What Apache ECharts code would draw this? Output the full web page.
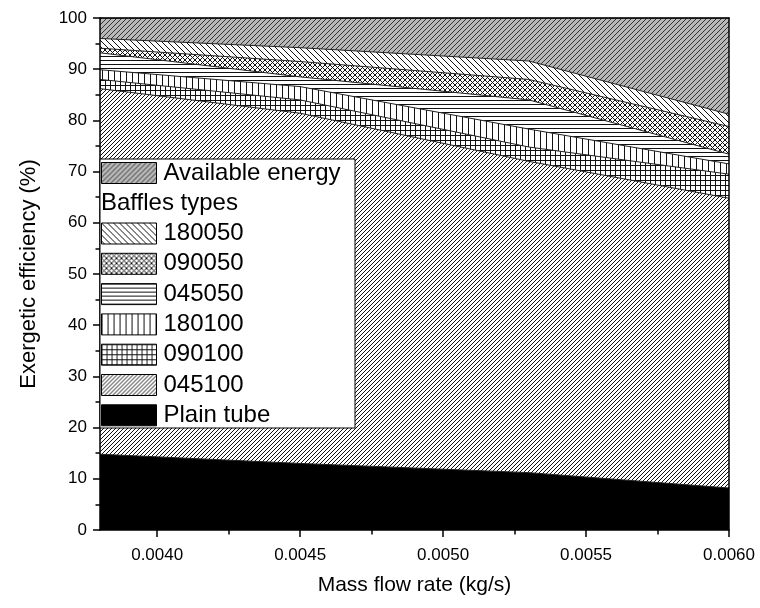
<!DOCTYPE html>
<html>
<head>
<meta charset="utf-8">
<script src="https://cdn.jsdelivr.net/npm/echarts@6/dist/echarts.min.js"></script>
<style>
    html, body { margin: 0; background: #fff; }
    #chart { width: 760px; height: 608px; }
</style>
</head>
<body>
<div id="chart"></div>
<script>
    // mass flow rate (kg/s)
    var massFlow = [0.0038, 0.0045, 0.0053, 0.0060];
    // exergetic efficiency (%) per baffle type
    var availableEnergy = [100, 100, 100, 100];
    var b180050 = [96.0, 94.2, 91.6, 81.2];
    var b090050 = [94.1, 91.5, 88.0, 78.8];
    var b045050 = [93.2, 88.5, 84.0, 73.4];
    var b180100 = [89.9, 86.6, 78.3, 71.5];
    var b090100 = [88.0, 84.0, 74.8, 69.5];
    var b045100 = [86.2, 81.4, 72.0, 64.8];
    var plainTube = [14.8, 13.0, 11.2, 8.2];

    var xTicks = [0.0040, 0.0045, 0.0050, 0.0055, 0.0060];
    var xMinorTicks = [0.00425, 0.00475, 0.00525, 0.00575];

    var FONT = 'Liberation Sans, Arial, sans-serif';

    function pattern(size, bg, draw, ink) {
        var c = document.createElement('canvas');
        c.width = size;
        c.height = size;
        var ctx = c.getContext('2d');
        ctx.fillStyle = bg;
        ctx.fillRect(0, 0, size, size);
        ctx.strokeStyle = ink || '#111';
        ctx.lineWidth = 1;
        ctx.beginPath();
        draw(ctx, size);
        ctx.stroke();
        return { image: c, repeat: 'repeat' };
    }
    function diagUp(ctx, s) {
        for (var k = -1; k <= 1; k++) { ctx.moveTo(k * s, s); ctx.lineTo(k * s + s, 0); }
    }
    function diagDown(ctx, s) {
        for (var k = -1; k <= 1; k++) { ctx.moveTo(k * s, 0); ctx.lineTo(k * s + s, s); }
    }
    function horiz(ctx, s) { ctx.moveTo(0, 0.5); ctx.lineTo(s, 0.5); }
    function vert(ctx, s) { ctx.moveTo(0.5, 0); ctx.lineTo(0.5, s); }

    var fills = {
        'Available energy': pattern(5, '#b8b8b8', diagUp, '#333'),
        '180050': pattern(6, '#fff', diagDown),
        '090050': pattern(5, '#fff', function (ctx, s) { diagUp(ctx, s); diagDown(ctx, s); }),
        '045050': pattern(4, '#fff', horiz),
        '180100': pattern(6, '#fff', vert),
        '090100': pattern(5, '#fff', function (ctx, s) { horiz(ctx, s); vert(ctx, s); }),
        '045100': pattern(4, '#fff', diagUp),
        'Plain tube': '#000'
    };

    function pairs(ys) {
        return massFlow.map(function (x, i) { return [x, ys[i]]; });
    }

    function area(name, ys) {
        return {
            name: name,
            type: 'line',
            data: pairs(ys),
            symbol: 'none',
            lineStyle: { color: '#222', width: 1 },
            itemStyle: { color: '#222' },
            areaStyle: { color: fills[name], opacity: 1 }
        };
    }

    function legendItem(name) {
        return { name: name, itemStyle: { color: fills[name], borderColor: '#000', borderWidth: 1 } };
    }

    var legendText = { fontSize: 24, color: '#000', fontFamily: FONT, padding: [0, 0, 0, 2] };

    var chart = echarts.init(document.getElementById('chart'));
    var axisLine = { lineStyle: { color: '#000', width: 1.5 } };

    chart.setOption({
        animation: false,
        textStyle: { fontFamily: FONT },
        grid: { left: 100, right: 31, top: 18, bottom: 78 },
        xAxis: [
            {
                type: 'value', min: 0.0038, max: 0.0060, position: 'bottom', z: 10,
                axisLine: axisLine,
                axisTick: { customValues: xTicks, length: 7, lineStyle: { color: '#000', width: 1.5 } },
                axisLabel: {
                    customValues: xTicks, fontSize: 17, color: '#000', margin: 17,
                    formatter: function (v) { return v.toFixed(4); }
                },
                splitLine: { show: false },
                name: 'Mass flow rate (kg/s)', nameLocation: 'middle', nameGap: 45,
                nameTextStyle: { fontSize: 21, color: '#000' }
            },
            {
                type: 'value', min: 0.0038, max: 0.0060, position: 'bottom', z: 10,
                axisLine: { show: false },
                axisTick: { customValues: xMinorTicks, length: 4.5, lineStyle: { color: '#000', width: 1.5 } },
                axisLabel: { show: false },
                splitLine: { show: false }
            },
            {
                type: 'value', min: 0.0038, max: 0.0060, position: 'top', z: 10,
                axisLine: axisLine, axisTick: { show: false }, axisLabel: { show: false },
                splitLine: { show: false }
            }
        ],
        yAxis: [
            {
                type: 'value', min: 0, max: 100, interval: 10, position: 'left', z: 10,
                axisLine: { show: true, lineStyle: { color: '#000', width: 1.5 } },
                axisTick: { show: true, length: 7, lineStyle: { color: '#000', width: 1.5 } },
                minorTick: { show: true, splitNumber: 2, length: 4.5, lineStyle: { color: '#000', width: 1.5 } },
                axisLabel: { fontSize: 17, color: '#000', margin: 13 },
                splitLine: { show: false },
                name: 'Exergetic efficiency (%)', nameLocation: 'middle', nameGap: 60,
                nameTextStyle: { fontSize: 22, color: '#000' }
            },
            {
                type: 'value', min: 0, max: 100, position: 'right', z: 10,
                axisLine: { show: true, lineStyle: { color: '#000', width: 1.5 } },
                axisTick: { show: false }, axisLabel: { show: false }, splitLine: { show: false }
            }
        ],
        legend: [
            {
                data: [legendItem('Available energy')], zlevel: 1, z: 5,
                left: 101, top: 161, orient: 'vertical', icon: 'rect',
                itemWidth: 55, itemHeight: 21, padding: 0, selectedMode: false,
                textStyle: legendText
            },
            {
                data: ['180050', '090050', '045050', '180100', '090100', '045100', 'Plain tube'].map(legendItem),
                zlevel: 1, z: 5,
                left: 101, top: 221.5, orient: 'vertical', icon: 'rect',
                itemWidth: 55, itemHeight: 21, itemGap: 6.3, padding: 0, selectedMode: false,
                textStyle: legendText
            }
        ],
        graphic: [
            {
                type: 'rect', zlevel: 1, z: 0,
                shape: { x: 100, y: 159, width: 255, height: 269 },
                style: { fill: '#fff', stroke: '#000', lineWidth: 1 }
            },
            {
                type: 'text', zlevel: 1, z: 5, x: 101, y: 203,
                style: { text: 'Baffles types', fontSize: 24, fontFamily: FONT, fill: '#000', verticalAlign: 'middle' }
            }
        ],
        series: [
            area('Available energy', availableEnergy),
            area('180050', b180050),
            area('090050', b090050),
            area('045050', b045050),
            area('180100', b180100),
            area('090100', b090100),
            area('045100', b045100),
            area('Plain tube', plainTube)
        ]
    });
</script>
</body>
</html>
